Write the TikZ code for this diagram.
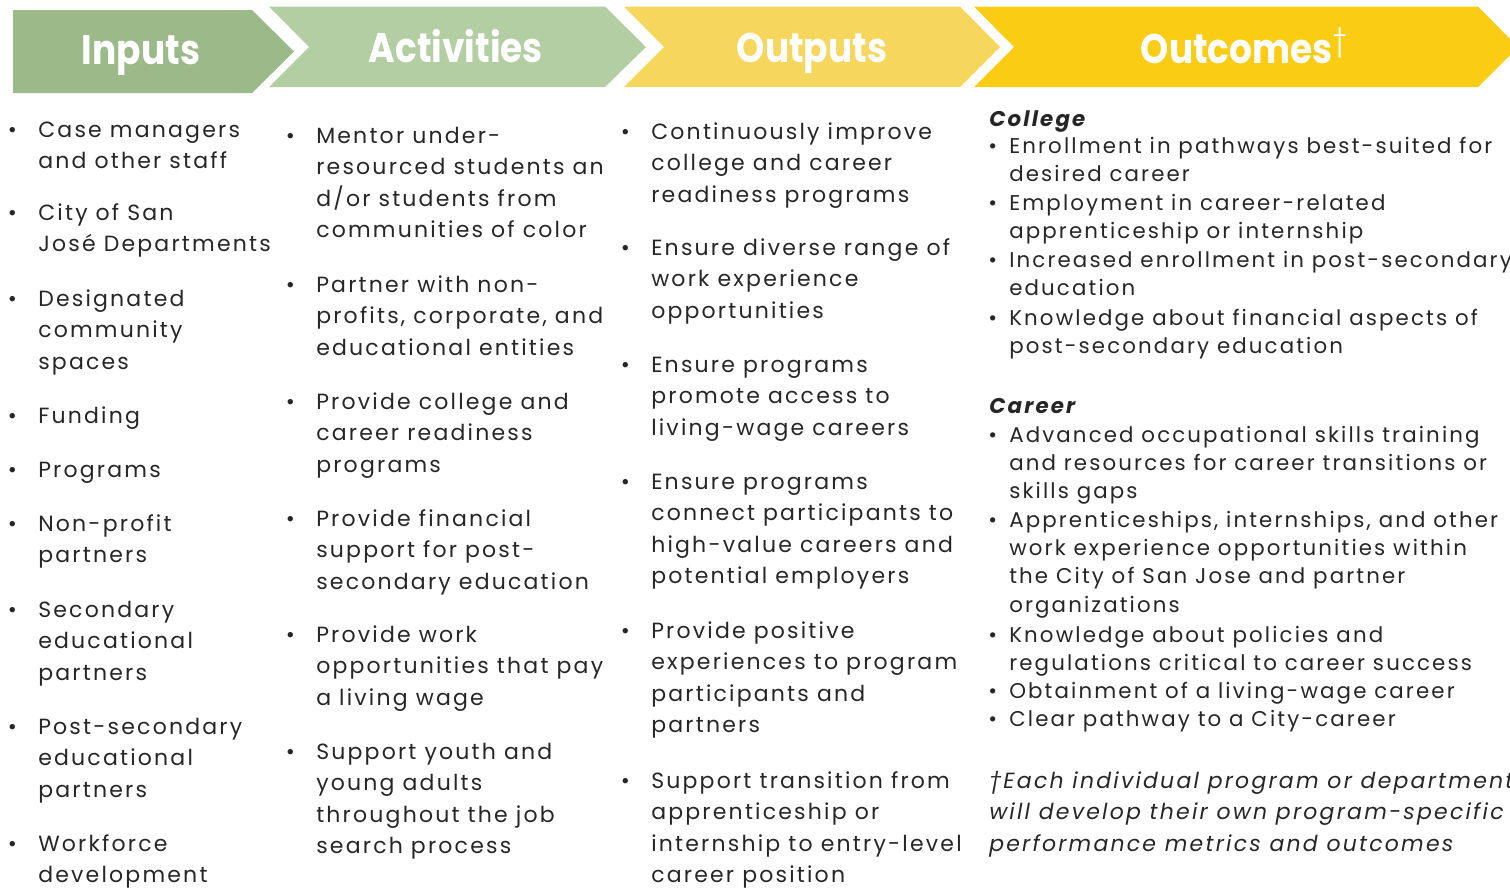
\documentclass[tikz,border=0pt]{standalone}
\usepackage{fontspec}
\setmainfont{Poppins}
\newfontfamily\bodyfont{Poppins}[LetterSpace=10]
\newfontfamily\headfont{Poppins}[FakeStretch=0.87]
\usetikzlibrary{positioning}
\definecolor{inputcol}{RGB}{156,185,138}
\definecolor{actcol}{RGB}{178,206,162}
\definecolor{outputcol}{RGB}{246,214,92}
\definecolor{outcomecol}{RGB}{250,204,20}
\definecolor{textcol}{RGB}{38,38,38}
\newcommand{\bul}[1][16pt]{\strut\makebox[0pt][r]{\textbullet\hspace{#1}}}

\begin{document}
\begin{tikzpicture}[x=0.75pt,y=-0.75pt,
  head/.style={anchor=base,text=white,inner sep=0pt,font=\headfont\bfseries\fontsize{31}{34}\selectfont},
  item/.style={anchor=north west,yshift=16.52pt,align=left,inner sep=0pt,text=textcol,
    font=\bodyfont\fontsize{16.5}{23.6}\selectfont},
  outitem/.style={item,yshift=-1.68pt,font=\bodyfont\fontsize{16}{21.2}\selectfont},
  subhead/.style={outitem,font=\bodyfont\bfseries\itshape\fontsize{16}{21.2}\selectfont},
  ]
\useasboundingbox (0,0) rectangle (1510,890);
\fill[inputcol] (13,10) -- (252,10) -- (294,51.5) -- (252,93) -- (13,93) -- cycle;
\fill[actcol] (269,6.5) -- (605,6.5) -- (646,47) -- (605,87) -- (269,87) -- (309,47) -- cycle;
\fill[outputcol] (624,6.5) -- (960,6.5) -- (1000,47) -- (960,87) -- (624,87) -- (664,47) -- cycle;
\fill[outcomecol] (974,6.5) -- (1478,6.5) -- (1518,47) -- (1478,87) -- (974,87) -- (1014,47) -- cycle;
\node[head] (inputs) at (141,64) {Inputs};
\node[head] (activities) at (456,62) {Activities};
\node[head] (outputs) at (812,62) {Outputs};
\node[head] (outcomes) at (1244,63) {Outcomes\textsuperscript{\mdseries †}};

\node[item,anchor=base west,yshift=0pt] (cut) at (0,5) {communities of color};

\node[item] (in1) at (38,137) {\bul Case managers\\and other staff};
\node[item] (in2) at (38,220) {\bul City of San\\José Departments};
\node[item] (in3) at (38,306) {\bul Designated\\community\\spaces};
\node[item] (in4) at (38,423) {\bul Funding};
\node[item] (in5) at (38,477) {\bul Programs};
\node[item] (in6) at (38,531) {\bul Non-profit\\partners};
\node[item] (in7) at (38,617) {\bul Secondary\\educational\\partners};
\node[item] (in8) at (38,734) {\bul Post-secondary\\educational\\partners};
\node[item] (in9) at (38,851) {\bul Workforce\\development};

\node[item] (act1) at (316,143) {\bul Mentor under-\\resourced students an\\d/or students from\\communities of color};
\node[item] (act2) at (316,292) {\bul Partner with non-\\profits, corporate, and\\educational entities};
\node[item] (act3) at (316,409) {\bul Provide college and\\career readiness\\programs};
\node[item] (act4) at (316,526) {\bul Provide financial\\support for post-\\secondary education};
\node[item] (act5) at (316,642) {\bul Provide work\\opportunities that pay\\a living wage};
\node[item] (act6) at (316,759) {\bul Support youth and\\young adults\\throughout the job\\search process};

\node[item] (out1) at (651,139) {\bul Continuously improve\\college and career\\readiness programs};
\node[item] (out2) at (651,255) {\bul Ensure diverse range of\\work experience\\opportunities};
\node[item] (out3) at (651,372) {\bul Ensure programs\\promote access to\\living-wage careers};
\node[item] (out4) at (651,489) {\bul Ensure programs\\connect participants to\\high-value careers and\\potential employers};
\node[item] (out5) at (651,638) {\bul Provide positive\\experiences to program\\participants and\\partners};
\node[item] (out6) at (651,788) {\bul Support transition from\\apprenticeship or\\internship to entry-level\\career position};

\node[subhead] (college) at (989,126) {\strut College};
\node[outitem] (oc1) at (1009,153) {\bul[9pt]Enrollment in pathways best-suited for\\desired career};
\node[outitem] (oc2) at (1009,210) {\bul[9pt]Employment in career-related\\apprenticeship or internship};
\node[outitem] (oc3) at (1009,267) {\bul[9pt]Increased enrollment in post-secondary\\education};
\node[outitem] (oc4) at (1009,325) {\bul[9pt]Knowledge about financial aspects of\\post-secondary education};
\node[subhead] (career) at (989,413) {\strut Career};
\node[outitem] (oc5) at (1009,442) {\bul[9pt]Advanced occupational skills training\\and resources for career transitions or\\skills gaps};
\node[outitem] (oc6) at (1009,527) {\bul[9pt]Apprenticeships, internships, and other\\work experience opportunities within\\the City of San Jose and partner\\organizations};
\node[outitem] (oc7) at (1009,642) {\bul[9pt]Knowledge about policies and\\regulations critical to career success};
\node[outitem] (oc8) at (1009,698) {\bul[9pt]Obtainment of a living-wage career};
\node[outitem] (oc9) at (1009,726) {\bul[9pt]Clear pathway to a City-career};
\node[item,font=\bodyfont\itshape\fontsize{16.5}{23.6}\selectfont] (note) at (989,788) {\strut †Each individual program or department\\will develop their own program-specific\\performance metrics and outcomes};
\end{tikzpicture}
\end{document}
